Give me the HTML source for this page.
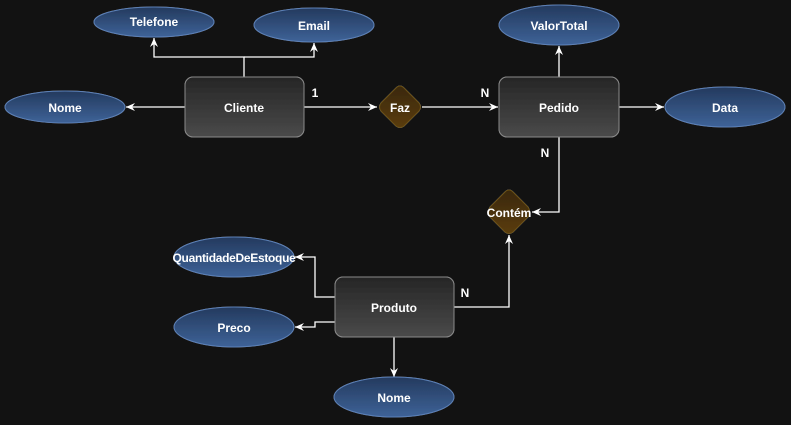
<!DOCTYPE html>
<html><head><meta charset="utf-8"><style>
html,body{margin:0;padding:0;background:#121212;width:791px;height:425px;overflow:hidden}
text{font-family:"Liberation Sans",Arial,sans-serif;font-size:12px;font-weight:bold;fill:#fff;text-anchor:middle;dominant-baseline:central}
</style></head><body>
<svg width="791" height="425" viewBox="0 0 791 425" xmlns="http://www.w3.org/2000/svg">
<defs>
<linearGradient id="eg" x1="0" y1="0" x2="0" y2="1"><stop offset="0" stop-color="#243a5e"/><stop offset="1" stop-color="#3e6398"/></linearGradient>
<linearGradient id="rg" x1="0" y1="0" x2="0" y2="1"><stop offset="0" stop-color="#262626"/><stop offset="1" stop-color="#4a4a4a"/></linearGradient>
<linearGradient id="dg" x1="0" y1="0" x2="0" y2="1"><stop offset="0" stop-color="#3a2808"/><stop offset="1" stop-color="#5a3c08"/></linearGradient>
<filter id="gl" x="-30%" y="-30%" width="160%" height="160%"><feGaussianBlur in="SourceAlpha" stdDeviation="3"/><feOffset dx="1" dy="2"/><feFlood flood-color="#fff" flood-opacity="0.35"/><feComposite operator="in" in2="SourceGraphic"/><feMerge><feMergeNode/><feMergeNode in="SourceGraphic"/></feMerge></filter>
<marker id="ar" markerWidth="10" markerHeight="10" refX="9" refY="5" orient="auto" markerUnits="userSpaceOnUse"><path d="M0,1 L9,5 L0,9 L3,5 Z" fill="#fff"/></marker>
</defs>
<g stroke="#fff" stroke-width="1.3" fill="none">
<path d="M244,77 V57 H154 V38" marker-end="url(#ar)"/>
<path d="M244,57 H314 V43" marker-end="url(#ar)"/>
<path d="M185,107 H126" marker-end="url(#ar)"/>
<path d="M304,107 H377" marker-end="url(#ar)"/>
<path d="M422,107 H498" marker-end="url(#ar)"/>
<path d="M559,77 V46" marker-end="url(#ar)"/>
<path d="M619,107 H664" marker-end="url(#ar)"/>
<path d="M559,137 V212 H532" marker-end="url(#ar)"/>
<path d="M454,307 H509 V235" marker-end="url(#ar)"/>
<path d="M335,297 H315 V257 H295" marker-end="url(#ar)"/>
<path d="M335,322 H315 V327 H295" marker-end="url(#ar)"/>
<path d="M394,337 V377" marker-end="url(#ar)"/>
</g>
<g filter="url(#gl)" stroke="#5a80b8" stroke-width="1" fill="url(#eg)">
<ellipse cx="154" cy="22" rx="60" ry="15"/>
<ellipse cx="314" cy="25" rx="60" ry="17"/>
<ellipse cx="65" cy="107" rx="60" ry="16"/>
<ellipse cx="559" cy="25" rx="60" ry="20"/>
<ellipse cx="725" cy="107" rx="60" ry="20"/>
<ellipse cx="234" cy="257" rx="60" ry="20"/>
<ellipse cx="234" cy="327" rx="60" ry="20"/>
<ellipse cx="394" cy="397" rx="60" ry="20"/>
</g>
<g filter="url(#gl)" stroke="#8a8a8a" stroke-width="1" fill="url(#rg)">
<rect x="185" y="77" width="119" height="60" rx="8"/>
<rect x="499" y="77" width="120" height="60" rx="8"/>
<rect x="335" y="277" width="119" height="60" rx="8"/>
</g>
<g filter="url(#gl)" stroke="#6a5010" stroke-width="1" fill="url(#dg)">
<path d="M400,86 Q402,86 404,88 L419,103 Q422,107 419,111 L404,126 Q400,129 396,126 L381,111 Q378,107 381,103 L396,88 Q398,86 400,86 Z"/>
<path d="M509,190 Q511,190 513,192 L528,207 Q531,212 528,217 L513,232 Q509,235 505,232 L490,217 Q487,212 490,207 L505,192 Q507,190 509,190 Z"/>
</g>
<text x="154" y="22">Telefone</text>
<text x="314" y="26">Email</text>
<text x="65" y="108">Nome</text>
<text x="559" y="26">ValorTotal</text>
<text x="725" y="108">Data</text>
<text x="234" y="258" style="letter-spacing:-0.3px">QuantidadeDeEstoque</text>
<text x="234" y="328">Preco</text>
<text x="394" y="398">Nome</text>
<text x="244" y="108">Cliente</text>
<text x="559" y="108">Pedido</text>
<text x="394" y="308">Produto</text>
<text x="400" y="108">Faz</text>
<text x="509" y="213">Contém</text>
<text x="315" y="93">1</text>
<text x="485" y="93">N</text>
<text x="545" y="153">N</text>
<text x="465" y="293">N</text>
</svg>
</body></html>
